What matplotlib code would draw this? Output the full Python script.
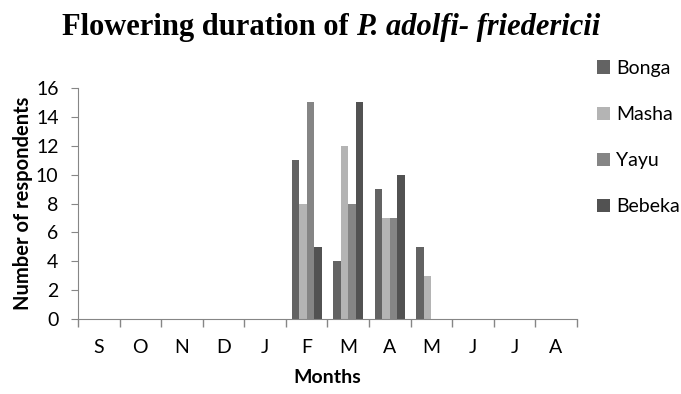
import matplotlib
matplotlib.use('Agg')
import matplotlib.pyplot as plt
import numpy as np

months = ['S', 'O', 'N', 'D', 'J', 'F', 'M', 'A', 'M', 'J', 'J', 'A']
sites = ['Bonga', 'Masha', 'Yayu', 'Bebeka']
bonga = [0, 0, 0, 0, 0, 11, 4, 9, 5, 0, 0, 0]
masha = [0, 0, 0, 0, 0, 8, 12, 7, 3, 0, 0, 0]
yayu = [0, 0, 0, 0, 0, 15, 8, 7, 0, 0, 0, 0]
bebeka = [0, 0, 0, 0, 0, 5, 15, 10, 0, 0, 0, 0]
colors = ['#636363', '#b4b4b4', '#858585', '#525252']

ui = ['Lato', 'DejaVu Sans']
fig = plt.figure(figsize=(6.81, 3.94), dpi=100)
ax = fig.add_axes([0.1145, 0.19, 0.7325, 0.587])

x = np.arange(len(months))
w = 0.18
for i, (name, vals) in enumerate(zip(sites, [bonga, masha, yayu, bebeka])):
    ax.bar(x + (i - 1.5) * w, vals, w, color=colors[i], label=name)

ax.set_xlim(-0.5, len(months) - 0.5)
ax.set_ylim(0, 16)
ax.set_yticks(range(0, 17, 2))
ax.set_xticks(x)
ax.set_xticklabels(months, family=ui, fontsize=14)
ax.set_xticks(np.arange(-0.5, len(months)), minor=True)
ax.tick_params(axis='x', which='major', length=0, pad=14)
ax.tick_params(axis='x', which='minor', length=6, color='#868686', width=1)
ax.tick_params(axis='y', length=5, color='#868686', labelsize=14, pad=9)
for lab in ax.get_yticklabels():
    lab.set_family(ui)
for s in ['top', 'right']:
    ax.spines[s].set_visible(False)
for s in ['left', 'bottom']:
    ax.spines[s].set_color('#868686')

ax.set_xlabel('Months', family=ui, fontsize=14, fontweight='bold', labelpad=10)
ax.set_ylabel('Number of respondents', family=ui, fontsize=14.5, fontweight='bold', labelpad=2)

leg = fig.legend(loc='upper left', bbox_to_anchor=(0.877, 0.848), frameon=False,
                 prop={'family': ui, 'size': 14}, handlelength=0.67, handleheight=0.67,
                 handletextpad=0.3, labelspacing=1.5, borderpad=0, borderaxespad=0)

# title: bold roman part plus bold italic species name
t1 = fig.text(0.091, 0.911, 'Flowering duration of ', family='Liberation Serif',
              fontweight='bold', fontsize=22, va='baseline')
fig.canvas.draw()
bb = t1.get_window_extent()
fig.text(bb.x1 / fig.bbox.width, 0.911, 'P. adolfi- friedericii', family='Liberation Serif',
         fontweight='bold', fontstyle='italic', fontsize=22, va='baseline')

fig.savefig('out.png', dpi=100)
